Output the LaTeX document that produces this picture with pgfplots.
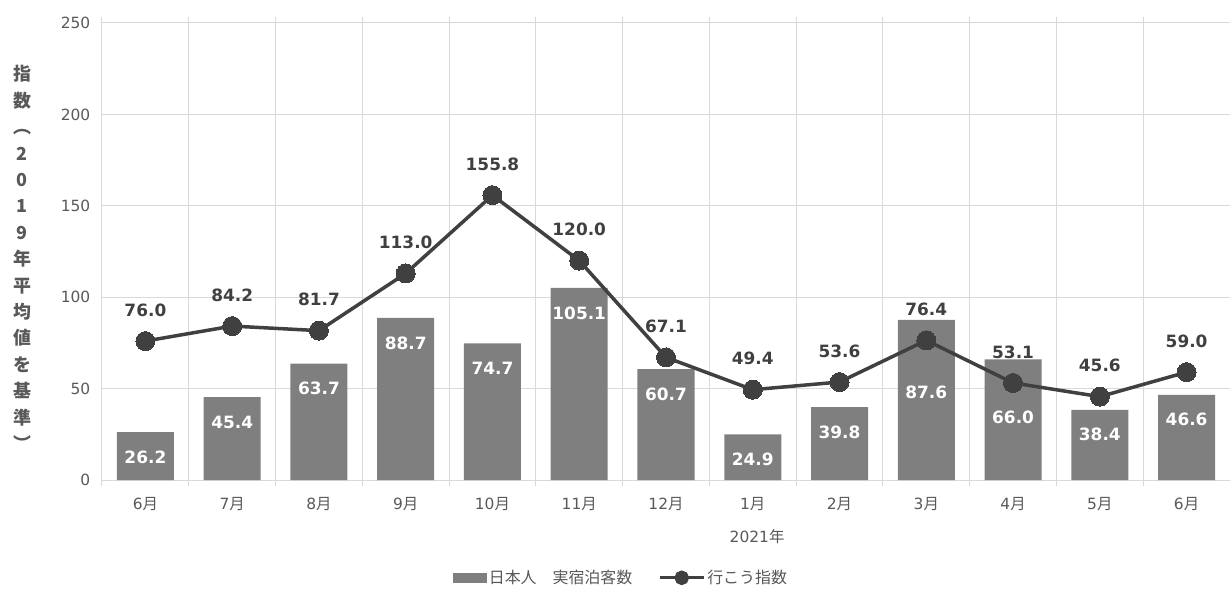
\documentclass[border=0pt]{standalone}
\usepackage{fontspec}
\setmainfont{DejaVu Sans}
\newfontfamily\cjk{Noto Sans CJK JP}
\usepackage{pgfplots}
\pgfplotsset{compat=1.18}
\usepackage{pgfplotstable}

\definecolor{barc}{HTML}{7F7F7F}
\definecolor{linec}{HTML}{404040}
\definecolor{gridc}{HTML}{D9D9D9}
\definecolor{textc}{HTML}{595959}
\newcommand\tsuki{{\cjk 月}}

% x = month slot, bar = 日本人 実宿泊客数, sh = label offset, idx = 行こう指数
\pgfplotstableread{
x bar  sh  idx
0  26.2 -25 76.0
1  45.4 -25 84.2
2  63.7 -25 81.7
3  88.7 -25 113.0
4  74.7 -25 155.8
5  105.1 -25 120.0
6  60.7 -25 67.1
7  24.9 -25 49.4
8  39.8 -25 53.6
9  87.6 -72 76.4
10 66.0 -58 53.1
11 38.4 -25 45.6
12 46.6 -25 59.0
}\data

\begin{document}
\begin{tikzpicture}
\useasboundingbox (-102bp,-110bp) rectangle (1129bp,480bp);
\begin{axis}[
  at={(0,0)}, anchor=south west,
  scale only axis, width=1128bp, height=457bp,
  xmin=-0.5, xmax=12.5, ymin=0, ymax=250,
  clip=false,
  axis line style={draw=none},
  xtick={0,...,12},
  xticklabels={6\tsuki,7\tsuki,8\tsuki,9\tsuki,10\tsuki,11\tsuki,12\tsuki,1\tsuki,2\tsuki,3\tsuki,4\tsuki,5\tsuki,6\tsuki},
  major x tick style={draw=none},
  minor xtick={-0.5,0.5,...,11.5},
  xminorgrids, minor x grid style={gridc, line width=1bp},
  minor x tick style={gridc, line width=1bp},
  minor tick length=6bp, tick align=outside,
  ytick={0,50,...,250},
  ymajorgrids, major y grid style={gridc, line width=1bp},
  major y tick style={draw=none},
  tick label style={textc, font=\fontsize{15.5}{18}\selectfont},
  /pgf/number format/assume math mode=true,
  xticklabel style={yshift=-10bp},
  yticklabel style={xshift=-4bp},
  legend style={at={(0.460,-0.214)}, anchor=center, draw=none,
    font=\cjk\fontsize{16}{18}\selectfont, text=textc,
    /tikz/every even column/.append style={column sep=24bp}},
  legend columns=2,
]
\addplot[ybar, bar width=0.657, fill=barc, draw=none,
  visualization depends on={\thisrow{sh}\as\sh},
  nodes near coords={\pgfmathprintnumber[fixed,fixed zerofill,precision=1]{\pgfplotspointmeta}},
  every node near coord/.append style={white, font=\bfseries\fontsize{17}{19}\selectfont, anchor=center, yshift=\sh bp},
  legend image code/.code={\fill[barc] (0bp,-5bp) rectangle (34bp,5bp);}
  ] table[x=x, y=bar] {\data};
\addlegendentry{日本人　実宿泊客数}
\addplot[linec, line width=3.5bp, mark=*, mark size=9.5bp,
  mark options={fill=linec, draw=linec, line width=0bp},
  nodes near coords={\pgfmathprintnumber[fixed,fixed zerofill,precision=1]{\pgfplotspointmeta}},
  every node near coord/.append style={linec, font=\bfseries\fontsize{17}{19}\selectfont, anchor=center, yshift=31bp},
  legend image code/.code={\draw[linec, line width=3bp] (0bp,0bp) -- (44bp,0bp); \fill[linec] (22bp,0bp) circle (5.5bp);}
  ] table[x=x, y=idx] {\data};
\addlegendentry{行こう指数}
\node[textc, font=\fontsize{15.5}{18}\selectfont] at (axis cs:7.05,0) [yshift=-57bp] {2021{\cjk 年}};
\end{axis}
\node[textc, font=\cjk\bfseries\fontsize{18}{26.5}\selectfont, align=center] at (-80bp,222bp)
  {指\\数\\︵\\2\\0\\1\\9\\年\\平\\均\\値\\を\\基\\準\\︶};
\end{tikzpicture}
\end{document}
